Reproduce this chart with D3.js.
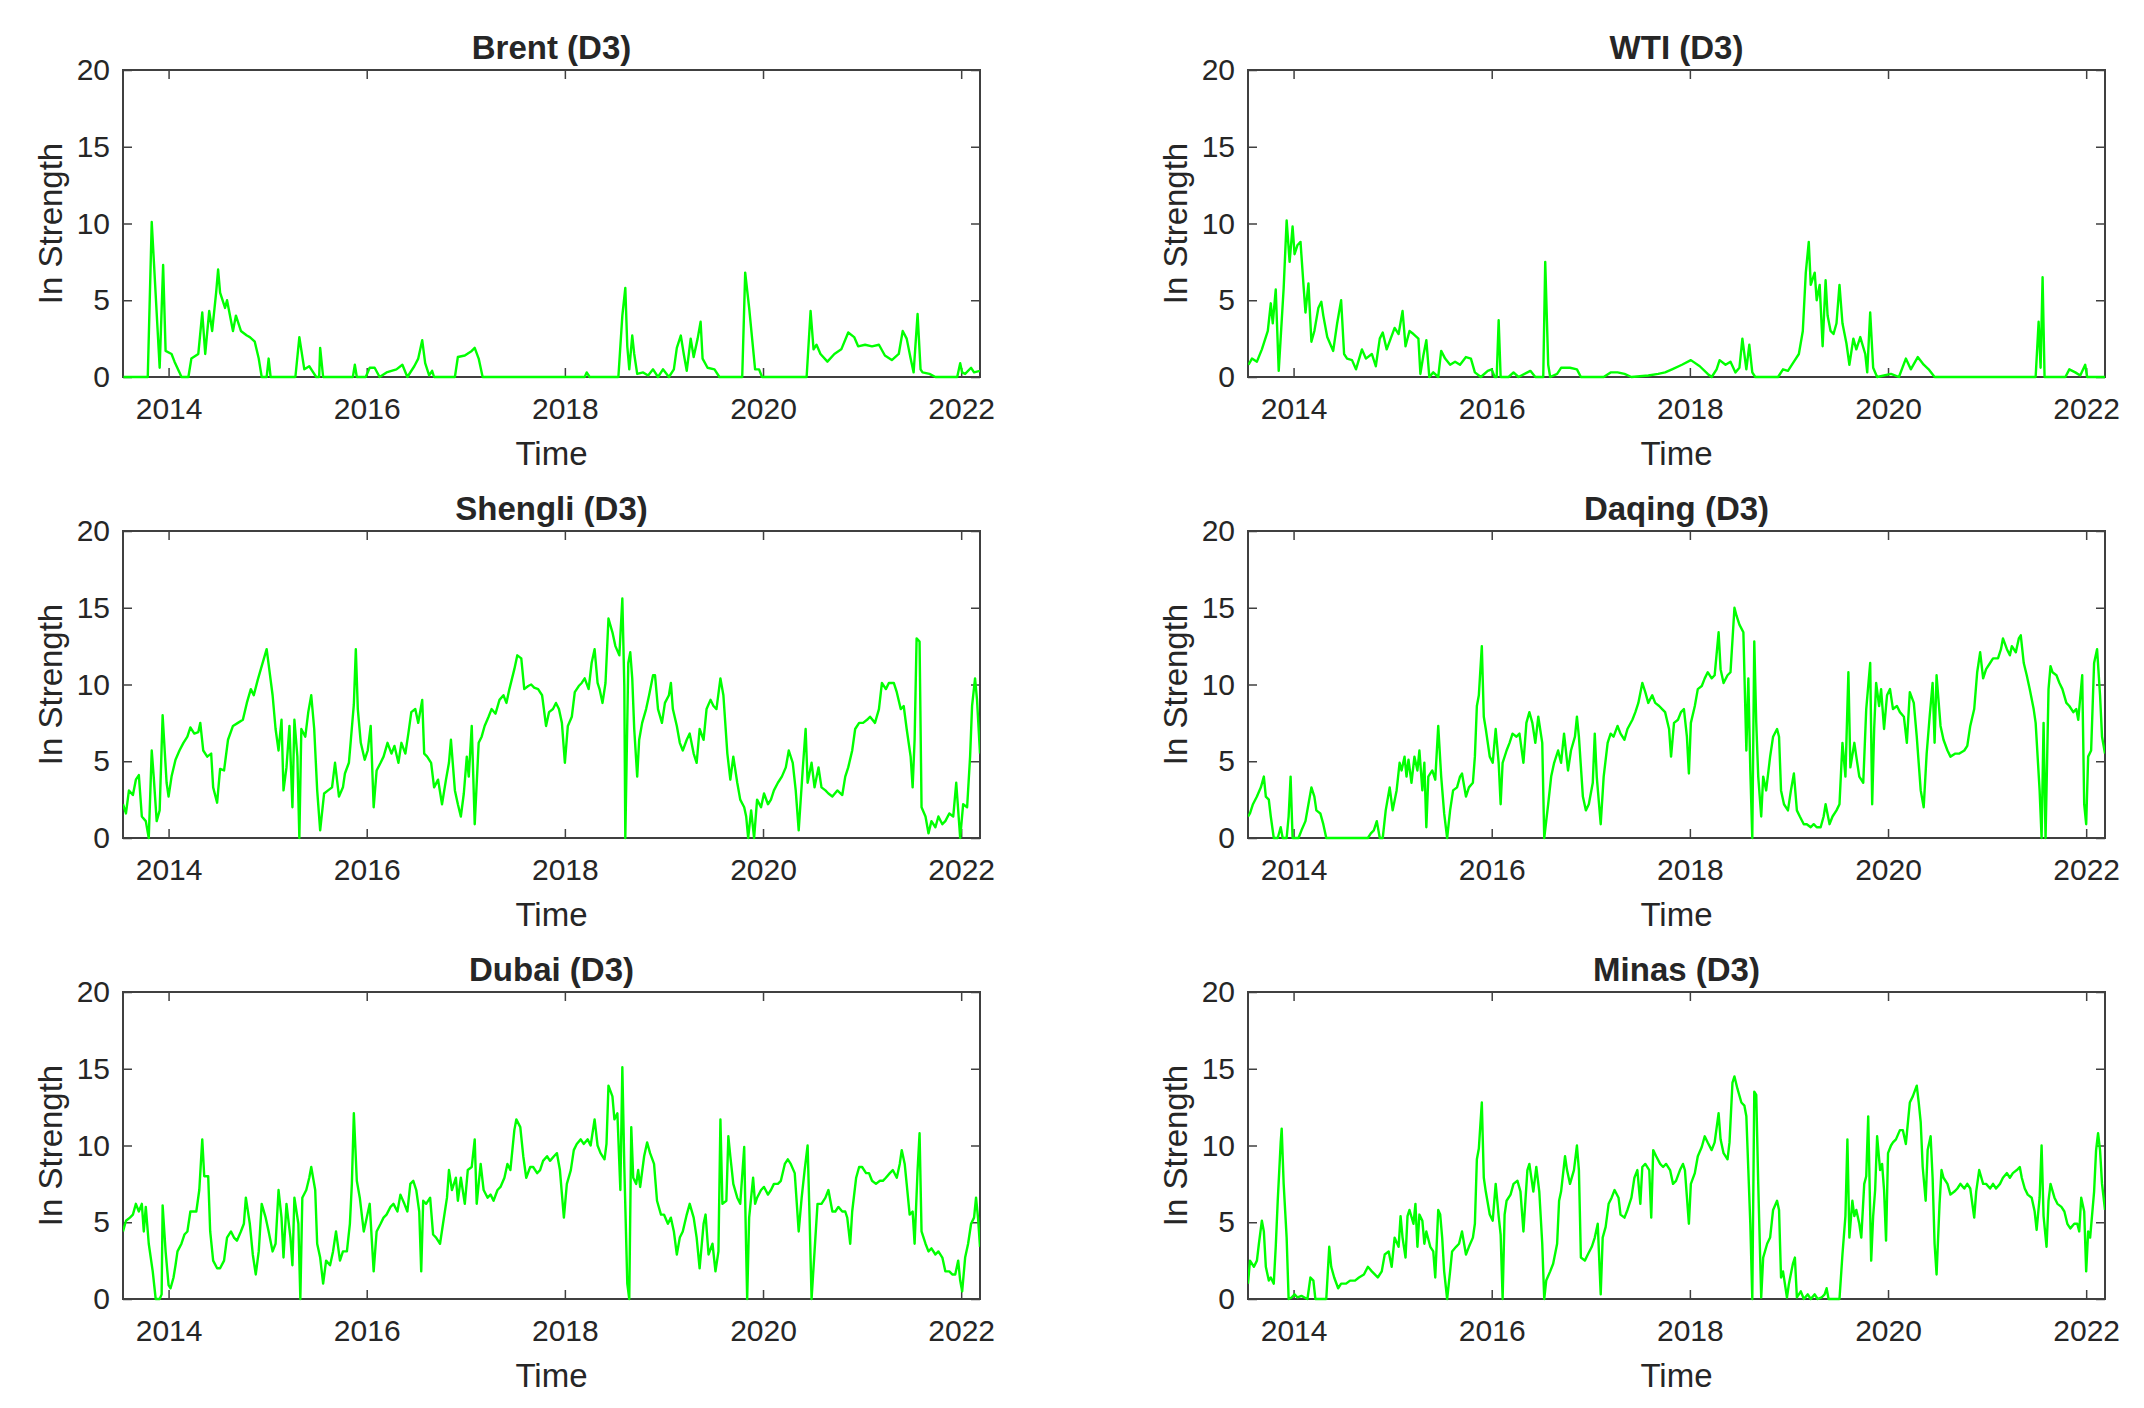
<!DOCTYPE html>
<html lang="en">
<head>
<meta charset="utf-8">
<title>In Strength (D3)</title>
<script src="https://d3js.org/d3.v7.min.js"></script>
<style>
  body { margin: 0; background: #fff; }
  text { font-family: "Liberation Sans", Arial, Helvetica, sans-serif; fill: #262626; }
</style>
</head>
<body>
<svg id="chart" width="2144" height="1408"></svg>
<script>
// axis ticks
const xTicks = [2014, 2016, 2018, 2020, 2022];
const yTicks = [0, 5, 10, 15, 20];
const titles = ["Brent (D3)", "WTI (D3)", "Shengli (D3)", "Daqing (D3)", "Dubai (D3)", "Minas (D3)"];

// [decimal year, in strength]
const brent = [[2013.545,0],[2013.79,0],[2013.83,10.1],[2013.91,0.6],[2013.945,7.3],[2013.97,1.7],[2014.03,1.5],[2014.06,1.0],[2014.11,0.3],[2014.13,0],[2014.20,0],[2014.23,1.2],[2014.30,1.5],[2014.34,4.2],[2014.37,1.5],[2014.41,4.3],[2014.44,3.0],[2014.48,5.5],[2014.50,7.0],[2014.52,5.5],[2014.57,4.5],[2014.59,5.0],[2014.65,3.0],[2014.68,4.0],[2014.73,3.0],[2014.79,2.7],[2014.82,2.6],[2014.87,2.3],[2014.91,1.2],[2014.94,0],[2014.99,0],[2015.01,1.2],[2015.03,0],[2015.28,0],[2015.32,2.6],[2015.37,0.5],[2015.42,0.7],[2015.46,0.3],[2015.49,0],[2015.52,0],[2015.53,1.9],[2015.56,0],[2015.86,0],[2015.88,0.8],[2015.90,0],[2015.99,0],[2016.03,0.6],[2016.08,0.6],[2016.13,0],[2016.20,0.3],[2016.30,0.5],[2016.36,0.8],[2016.41,0],[2016.48,0.7],[2016.52,1.2],[2016.56,2.4],[2016.59,0.9],[2016.63,0.1],[2016.66,0.4],[2016.68,0],[2016.89,0],[2016.92,1.3],[2016.99,1.4],[2017.06,1.7],[2017.09,1.9],[2017.13,1.2],[2017.17,0],[2018.20,0],[2018.22,0.3],[2018.25,0],[2018.54,0],[2018.58,4.0],[2018.61,5.8],[2018.63,2.0],[2018.65,0.5],[2018.68,2.7],[2018.70,1.5],[2018.73,0.2],[2018.79,0.3],[2018.84,0.1],[2018.89,0.5],[2018.94,0],[2018.99,0.5],[2019.05,0],[2019.10,0.5],[2019.13,1.9],[2019.17,2.7],[2019.20,1.5],[2019.23,0.4],[2019.27,2.5],[2019.30,1.3],[2019.34,2.5],[2019.37,3.6],[2019.39,1.2],[2019.44,0.6],[2019.51,0.5],[2019.56,0],[2019.79,0],[2019.82,6.8],[2019.86,4.5],[2019.89,2.5],[2019.92,0.5],[2019.96,0.5],[2019.99,0],[2020.44,0],[2020.48,4.3],[2020.51,1.8],[2020.54,2.1],[2020.58,1.5],[2020.65,1.0],[2020.72,1.5],[2020.79,1.8],[2020.86,2.9],[2020.92,2.6],[2020.96,2.0],[2021.03,2.1],[2021.10,2.0],[2021.17,2.1],[2021.23,1.4],[2021.30,1.1],[2021.37,1.5],[2021.41,3.0],[2021.45,2.5],[2021.49,1.2],[2021.52,0.3],[2021.56,4.1],[2021.59,0.5],[2021.61,0.3],[2021.68,0.2],[2021.74,0],[2021.96,0],[2021.99,0.9],[2022.01,0.3],[2022.04,0.2],[2022.10,0.6],[2022.13,0.3],[2022.19,0.4]];

const wti = [[2013.545,0.8],[2013.58,1.2],[2013.63,1.0],[2013.68,1.8],[2013.74,3.0],[2013.77,4.8],[2013.79,3.5],[2013.82,5.7],[2013.85,0.4],[2013.90,5.8],[2013.93,10.2],[2013.96,7.5],[2013.99,9.8],[2014.01,8.0],[2014.04,8.6],[2014.07,8.8],[2014.10,6.0],[2014.12,4.2],[2014.15,6.1],[2014.18,2.3],[2014.21,3.0],[2014.25,4.5],[2014.28,4.9],[2014.30,4.0],[2014.34,2.6],[2014.40,1.7],[2014.44,3.5],[2014.48,5.0],[2014.51,1.5],[2014.54,1.2],[2014.59,1.1],[2014.63,0.5],[2014.69,1.8],[2014.73,1.2],[2014.79,1.5],[2014.83,0.7],[2014.87,2.5],[2014.90,2.9],[2014.94,1.8],[2014.98,2.5],[2015.02,3.2],[2015.06,2.8],[2015.10,4.3],[2015.13,2.0],[2015.17,3.0],[2015.21,2.8],[2015.26,2.5],[2015.28,0.2],[2015.31,1.4],[2015.34,2.4],[2015.37,0],[2015.41,0.3],[2015.46,0],[2015.49,1.7],[2015.53,1.2],[2015.58,0.8],[2015.63,1.0],[2015.68,0.8],[2015.74,1.3],[2015.79,1.2],[2015.83,0.3],[2015.89,0],[2015.96,0.4],[2016.00,0.5],[2016.03,0],[2016.05,0],[2016.07,3.7],[2016.09,0],[2016.17,0],[2016.22,0.3],[2016.27,0],[2016.39,0.4],[2016.44,0],[2016.52,0],[2016.54,7.5],[2016.57,0.8],[2016.59,0],[2016.66,0.2],[2016.70,0.6],[2016.79,0.6],[2016.86,0.5],[2016.90,0],[2017.13,0],[2017.20,0.3],[2017.27,0.3],[2017.34,0.2],[2017.41,0],[2017.58,0.1],[2017.68,0.2],[2017.75,0.3],[2017.82,0.5],[2017.92,0.8],[2018.01,1.1],[2018.10,0.7],[2018.18,0.2],[2018.22,0],[2018.27,0.5],[2018.30,1.1],[2018.36,0.8],[2018.41,1.0],[2018.46,0.3],[2018.50,0.6],[2018.53,2.5],[2018.57,0.5],[2018.60,2.1],[2018.63,0.3],[2018.66,0],[2018.89,0],[2018.94,0.5],[2018.99,0.4],[2019.05,1.0],[2019.10,1.5],[2019.14,3.0],[2019.17,6.8],[2019.20,8.8],[2019.22,6.0],[2019.26,6.8],[2019.28,5.0],[2019.31,6.0],[2019.34,2.0],[2019.37,6.3],[2019.39,4.0],[2019.42,3.0],[2019.45,2.8],[2019.48,3.5],[2019.51,6.0],[2019.54,3.5],[2019.58,2.2],[2019.61,0.8],[2019.65,2.5],[2019.68,1.8],[2019.72,2.6],[2019.77,1.5],[2019.79,0.3],[2019.82,4.2],[2019.85,0.6],[2019.89,0],[2020.03,0.2],[2020.11,0],[2020.18,1.2],[2020.23,0.5],[2020.30,1.3],[2020.36,0.8],[2020.41,0.5],[2020.47,0],[2021.49,0],[2021.52,3.6],[2021.54,0.6],[2021.56,6.5],[2021.58,0],[2021.79,0],[2021.83,0.5],[2021.89,0.3],[2021.94,0.1],[2021.99,0.8],[2022.01,0],[2022.19,0]];

const shengli = [[2013.54,2.2],[2013.57,1.6],[2013.60,3.1],[2013.64,2.8],[2013.67,3.8],[2013.70,4.1],[2013.73,1.4],[2013.77,1.1],[2013.80,0],[2013.83,5.7],[2013.85,4.0],[2013.88,1.1],[2013.91,1.8],[2013.94,8.0],[2013.98,3.6],[2014.00,2.7],[2014.03,4.0],[2014.07,5.1],[2014.11,5.7],[2014.15,6.2],[2014.19,6.6],[2014.22,7.2],[2014.26,6.8],[2014.30,6.9],[2014.32,7.5],[2014.35,5.7],[2014.39,5.3],[2014.43,5.5],[2014.45,3.3],[2014.49,2.3],[2014.52,4.5],[2014.56,4.4],[2014.60,6.4],[2014.65,7.3],[2014.70,7.5],[2014.75,7.7],[2014.79,8.8],[2014.83,9.7],[2014.86,9.3],[2014.90,10.3],[2014.94,11.2],[2014.99,12.3],[2015.02,10.8],[2015.05,9.3],[2015.08,7.1],[2015.11,5.7],[2015.14,7.7],[2015.16,3.1],[2015.19,4.6],[2015.22,7.3],[2015.25,2.0],[2015.27,7.7],[2015.30,5.3],[2015.32,0],[2015.34,7.1],[2015.38,6.6],[2015.41,8.2],[2015.44,9.3],[2015.47,7.1],[2015.50,3.1],[2015.53,0.5],[2015.57,2.9],[2015.61,3.1],[2015.65,3.3],[2015.68,4.9],[2015.72,2.7],[2015.76,3.3],[2015.78,4.2],[2015.82,4.9],[2015.84,6.4],[2015.87,8.7],[2015.89,12.3],[2015.91,8.4],[2015.94,6.2],[2015.98,5.1],[2016.01,5.7],[2016.04,7.3],[2016.07,2.0],[2016.10,4.4],[2016.14,4.9],[2016.17,5.3],[2016.21,6.2],[2016.25,5.5],[2016.28,6.0],[2016.32,4.9],[2016.35,6.2],[2016.39,5.5],[2016.42,6.8],[2016.45,8.2],[2016.49,8.4],[2016.52,7.5],[2016.56,9.0],[2016.58,5.5],[2016.61,5.3],[2016.65,4.9],[2016.68,3.3],[2016.72,3.8],[2016.76,2.2],[2016.80,3.8],[2016.83,4.9],[2016.85,6.4],[2016.89,3.1],[2016.92,2.2],[2016.95,1.4],[2016.98,2.9],[2017.01,5.3],[2017.03,4.0],[2017.06,7.3],[2017.09,0.9],[2017.13,6.2],[2017.16,6.6],[2017.19,7.3],[2017.23,7.9],[2017.26,8.4],[2017.30,8.1],[2017.34,9.0],[2017.38,9.3],[2017.41,8.8],[2017.44,9.7],[2017.49,11.0],[2017.52,11.9],[2017.56,11.7],[2017.59,9.7],[2017.63,9.9],[2017.66,10.0],[2017.69,9.8],[2017.73,9.7],[2017.77,9.3],[2017.81,7.3],[2017.84,8.2],[2017.88,8.4],[2017.91,8.8],[2017.94,8.4],[2017.97,7.5],[2018.00,4.9],[2018.03,7.3],[2018.07,7.9],[2018.10,9.5],[2018.14,9.9],[2018.17,10.1],[2018.20,10.4],[2018.24,9.7],[2018.27,11.4],[2018.30,12.3],[2018.33,10.1],[2018.35,9.7],[2018.38,8.8],[2018.41,10.1],[2018.44,14.3],[2018.48,13.4],[2018.51,12.5],[2018.55,11.9],[2018.58,15.6],[2018.60,9.9],[2018.61,0],[2018.64,11.4],[2018.66,12.1],[2018.68,10.4],[2018.70,7.1],[2018.73,4.0],[2018.75,6.4],[2018.78,7.5],[2018.82,8.4],[2018.85,9.3],[2018.89,10.6],[2018.91,10.6],[2018.94,8.4],[2018.98,7.5],[2019.01,8.8],[2019.05,9.3],[2019.07,10.1],[2019.09,8.4],[2019.13,7.3],[2019.16,6.2],[2019.19,5.7],[2019.23,6.4],[2019.26,6.8],[2019.30,5.5],[2019.33,4.9],[2019.36,7.1],[2019.40,6.4],[2019.43,8.4],[2019.47,9.0],[2019.50,8.6],[2019.53,8.4],[2019.57,10.4],[2019.60,9.3],[2019.64,5.5],[2019.67,3.8],[2019.70,5.3],[2019.74,3.6],[2019.77,2.5],[2019.81,2.0],[2019.83,1.4],[2019.85,0],[2019.88,1.8],[2019.91,0],[2019.94,2.5],[2019.98,2.0],[2020.01,2.9],[2020.05,2.2],[2020.08,2.5],[2020.11,3.1],[2020.15,3.6],[2020.19,4.0],[2020.23,4.6],[2020.26,5.7],[2020.30,4.9],[2020.33,3.1],[2020.36,0.5],[2020.40,4.4],[2020.43,7.1],[2020.45,3.6],[2020.49,4.9],[2020.52,3.3],[2020.56,4.6],[2020.59,3.3],[2020.63,3.1],[2020.66,2.9],[2020.70,2.7],[2020.75,3.1],[2020.80,2.8],[2020.83,4.0],[2020.86,4.6],[2020.90,5.7],[2020.93,7.1],[2020.97,7.5],[2021.01,7.5],[2021.05,7.7],[2021.08,7.9],[2021.13,7.5],[2021.17,8.4],[2021.20,10.1],[2021.24,9.7],[2021.27,10.1],[2021.32,10.1],[2021.35,9.5],[2021.39,8.4],[2021.42,8.6],[2021.45,7.1],[2021.49,5.3],[2021.51,3.3],[2021.53,6.4],[2021.55,13.0],[2021.58,12.8],[2021.60,2.0],[2021.64,1.4],[2021.67,0.3],[2021.70,1.1],[2021.74,0.7],[2021.77,1.4],[2021.81,0.9],[2021.84,1.1],[2021.88,1.6],[2021.92,1.4],[2021.95,3.6],[2021.99,0],[2022.02,2.2],[2022.06,2.0],[2022.09,5.3],[2022.11,8.6],[2022.14,10.4],[2022.16,9.0],[2022.19,5.5]];

const daqing = [[2013.54,1.4],[2013.56,1.6],[2013.59,2.2],[2013.63,2.7],[2013.67,3.3],[2013.70,4.0],[2013.72,2.7],[2013.75,2.5],[2013.77,1.4],[2013.80,0],[2013.84,0],[2013.87,0.7],[2013.89,0],[2013.93,0],[2013.95,1.4],[2013.97,4.0],[2013.99,0],[2014.05,0],[2014.08,0.5],[2014.12,1.1],[2014.15,2.2],[2014.18,3.3],[2014.21,2.7],[2014.23,1.8],[2014.27,1.6],[2014.30,0.9],[2014.33,0],[2014.75,0],[2014.78,0.3],[2014.81,0.5],[2014.84,1.1],[2014.87,0],[2014.90,0],[2014.93,1.8],[2014.97,3.3],[2015.00,1.8],[2015.04,3.1],[2015.07,4.9],[2015.09,4.4],[2015.12,5.3],[2015.14,4.0],[2015.16,5.1],[2015.19,3.6],[2015.22,5.3],[2015.25,4.4],[2015.27,5.7],[2015.30,3.1],[2015.32,4.9],[2015.34,0.7],[2015.36,4.0],[2015.40,4.4],[2015.43,3.8],[2015.46,7.3],[2015.49,4.0],[2015.52,1.6],[2015.55,0],[2015.58,1.8],[2015.61,3.1],[2015.65,3.3],[2015.68,4.0],[2015.70,4.2],[2015.74,2.7],[2015.77,3.3],[2015.81,3.6],[2015.83,5.3],[2015.85,8.6],[2015.87,9.3],[2015.90,12.5],[2015.92,7.9],[2015.94,7.1],[2015.98,5.3],[2016.01,4.9],[2016.04,7.1],[2016.07,4.9],[2016.09,2.2],[2016.11,4.9],[2016.15,5.7],[2016.18,6.2],[2016.21,6.8],[2016.25,6.6],[2016.28,6.8],[2016.32,4.9],[2016.35,7.5],[2016.38,8.2],[2016.41,7.5],[2016.44,6.2],[2016.47,7.9],[2016.51,6.2],[2016.53,0],[2016.57,2.2],[2016.60,4.0],[2016.63,4.9],[2016.67,5.7],[2016.70,4.9],[2016.73,6.8],[2016.77,4.4],[2016.80,5.7],[2016.84,6.6],[2016.86,7.9],[2016.88,6.6],[2016.92,2.7],[2016.95,1.8],[2016.98,2.2],[2017.02,3.6],[2017.04,6.8],[2017.06,4.0],[2017.10,0.9],[2017.13,4.0],[2017.17,6.2],[2017.20,6.8],[2017.23,6.6],[2017.27,7.3],[2017.30,6.8],[2017.34,6.4],[2017.37,7.1],[2017.42,7.7],[2017.45,8.2],[2017.48,8.8],[2017.52,10.1],[2017.55,9.5],[2017.58,8.8],[2017.62,9.3],[2017.65,8.8],[2017.69,8.6],[2017.72,8.4],[2017.75,8.2],[2017.79,7.1],[2017.81,5.3],[2017.84,7.5],[2017.88,7.7],[2017.91,8.2],[2017.94,8.4],[2017.97,6.6],[2017.99,4.2],[2018.01,7.5],[2018.05,8.6],[2018.08,9.7],[2018.12,9.9],[2018.15,10.4],[2018.18,10.8],[2018.22,10.4],[2018.25,10.6],[2018.29,13.4],[2018.31,11.0],[2018.34,10.1],[2018.38,10.6],[2018.41,10.8],[2018.45,15.0],[2018.47,14.5],[2018.50,13.9],[2018.54,13.4],[2018.57,5.7],[2018.59,10.4],[2018.61,4.4],[2018.63,0],[2018.65,12.8],[2018.67,7.5],[2018.69,4.0],[2018.72,1.4],[2018.74,4.0],[2018.77,3.1],[2018.81,5.3],[2018.84,6.6],[2018.88,7.1],[2018.90,6.6],[2018.92,3.1],[2018.95,2.2],[2018.99,1.8],[2019.02,3.1],[2019.05,4.2],[2019.08,1.8],[2019.11,1.4],[2019.15,0.9],[2019.18,0.9],[2019.22,0.7],[2019.25,0.9],[2019.28,0.7],[2019.32,0.7],[2019.35,1.4],[2019.37,2.2],[2019.41,0.9],[2019.44,1.4],[2019.48,1.8],[2019.51,2.2],[2019.54,6.2],[2019.57,4.0],[2019.60,10.8],[2019.62,4.6],[2019.66,6.2],[2019.68,5.3],[2019.71,4.0],[2019.75,3.6],[2019.78,8.4],[2019.82,11.4],[2019.84,2.2],[2019.86,7.1],[2019.88,10.1],[2019.91,8.6],[2019.93,9.7],[2019.96,7.1],[2019.99,9.3],[2020.02,9.7],[2020.05,8.4],[2020.09,8.6],[2020.12,8.2],[2020.16,7.9],[2020.19,6.2],[2020.22,9.5],[2020.26,8.8],[2020.29,6.6],[2020.33,3.1],[2020.36,2.0],[2020.39,5.5],[2020.42,7.9],[2020.45,10.1],[2020.47,6.2],[2020.49,10.6],[2020.53,7.3],[2020.56,6.4],[2020.60,5.7],[2020.63,5.3],[2020.68,5.5],[2020.72,5.5],[2020.77,5.7],[2020.80,6.0],[2020.83,7.3],[2020.87,8.4],[2020.90,10.8],[2020.93,12.1],[2020.96,10.4],[2020.99,11.0],[2021.03,11.4],[2021.06,11.7],[2021.11,11.7],[2021.14,12.3],[2021.16,13.0],[2021.20,12.3],[2021.23,11.9],[2021.25,12.5],[2021.29,12.1],[2021.32,13.0],[2021.34,13.2],[2021.37,11.4],[2021.40,10.6],[2021.43,9.7],[2021.47,8.4],[2021.49,7.5],[2021.53,3.1],[2021.55,0],[2021.57,7.5],[2021.59,0],[2021.62,9.7],[2021.64,11.2],[2021.66,10.8],[2021.70,10.6],[2021.73,10.1],[2021.76,9.7],[2021.80,8.8],[2021.83,8.6],[2021.87,8.2],[2021.90,8.4],[2021.92,7.7],[2021.96,10.6],[2021.98,2.2],[2022.00,0.9],[2022.02,5.3],[2022.05,5.7],[2022.08,11.4],[2022.11,12.3],[2022.14,9.3],[2022.16,6.6],[2022.19,5.5]];

const dubai = [[2013.54,4.4],[2013.57,5.1],[2013.61,5.3],[2013.64,5.5],[2013.67,6.2],[2013.70,5.7],[2013.73,6.2],[2013.75,4.4],[2013.77,6.0],[2013.80,3.6],[2013.84,1.8],[2013.87,0],[2013.91,0],[2013.93,0.3],[2013.94,6.1],[2013.97,3.1],[2014.00,0.9],[2014.02,0.7],[2014.05,1.4],[2014.07,2.2],[2014.09,3.1],[2014.13,3.6],[2014.16,4.2],[2014.19,4.4],[2014.22,5.7],[2014.25,5.7],[2014.28,5.7],[2014.31,7.1],[2014.34,10.4],[2014.36,8.0],[2014.40,8.0],[2014.42,4.4],[2014.45,2.5],[2014.49,2.0],[2014.52,2.0],[2014.56,2.5],[2014.59,4.0],[2014.63,4.4],[2014.66,4.0],[2014.69,3.8],[2014.73,4.4],[2014.76,4.9],[2014.78,6.6],[2014.82,4.9],[2014.85,2.9],[2014.88,1.6],[2014.91,3.1],[2014.94,6.2],[2014.98,5.3],[2015.01,4.4],[2015.05,3.1],[2015.08,3.6],[2015.11,7.1],[2015.14,5.3],[2015.16,2.7],[2015.19,6.2],[2015.23,4.0],[2015.25,2.2],[2015.27,6.6],[2015.31,4.9],[2015.33,0],[2015.35,6.6],[2015.39,7.1],[2015.42,7.9],[2015.44,8.6],[2015.48,7.1],[2015.50,3.6],[2015.53,2.7],[2015.56,1.0],[2015.59,2.5],[2015.63,2.2],[2015.66,3.1],[2015.69,4.4],[2015.73,2.5],[2015.76,3.1],[2015.80,3.1],[2015.83,4.9],[2015.85,7.5],[2015.87,12.1],[2015.90,7.7],[2015.93,6.6],[2015.97,4.4],[2016.00,5.3],[2016.03,6.2],[2016.07,1.8],[2016.10,4.4],[2016.14,4.9],[2016.17,5.3],[2016.20,5.5],[2016.24,6.0],[2016.27,6.2],[2016.31,5.7],[2016.34,6.8],[2016.38,6.2],[2016.41,5.7],[2016.44,7.5],[2016.47,7.7],[2016.50,7.1],[2016.53,5.7],[2016.55,1.8],[2016.57,6.4],[2016.60,6.2],[2016.64,6.6],[2016.67,4.2],[2016.70,4.0],[2016.74,3.6],[2016.77,4.9],[2016.81,6.6],[2016.83,8.4],[2016.86,7.1],[2016.90,7.9],[2016.92,6.4],[2016.95,7.9],[2016.99,6.2],[2017.02,8.4],[2017.06,8.6],[2017.09,10.4],[2017.11,6.2],[2017.15,8.8],[2017.18,7.1],[2017.22,6.6],[2017.25,6.8],[2017.28,6.4],[2017.32,7.1],[2017.35,7.3],[2017.39,7.9],[2017.42,8.8],[2017.45,8.4],[2017.49,11.0],[2017.51,11.7],[2017.55,11.2],[2017.58,9.3],[2017.61,7.9],[2017.65,8.6],[2017.68,8.6],[2017.72,8.2],[2017.75,8.4],[2017.78,9.0],[2017.82,9.3],[2017.85,9.0],[2017.89,9.3],[2017.92,9.5],[2017.95,8.4],[2017.99,5.3],[2018.02,7.5],[2018.06,8.4],[2018.09,9.7],[2018.12,10.1],[2018.16,10.4],[2018.19,10.1],[2018.23,10.4],[2018.26,10.0],[2018.30,11.7],[2018.33,10.0],[2018.36,9.5],[2018.40,9.1],[2018.42,10.1],[2018.44,13.9],[2018.48,13.2],[2018.50,11.7],[2018.53,12.1],[2018.56,7.1],[2018.58,15.1],[2018.60,8.6],[2018.63,1.0],[2018.65,0],[2018.67,11.2],[2018.69,7.9],[2018.72,7.5],[2018.74,8.4],[2018.76,7.3],[2018.80,9.3],[2018.83,10.2],[2018.86,9.5],[2018.90,8.8],[2018.93,6.4],[2018.97,5.5],[2019.00,5.5],[2019.04,4.9],[2019.07,5.3],[2019.10,4.4],[2019.13,2.9],[2019.16,4.0],[2019.19,4.4],[2019.23,5.5],[2019.26,6.2],[2019.30,5.3],[2019.33,4.0],[2019.36,2.0],[2019.40,4.9],[2019.42,5.5],[2019.45,2.9],[2019.49,3.6],[2019.52,1.8],[2019.55,3.1],[2019.57,11.7],[2019.59,6.2],[2019.63,6.4],[2019.65,10.6],[2019.67,9.3],[2019.70,7.5],[2019.74,6.6],[2019.77,6.2],[2019.81,9.9],[2019.83,3.1],[2019.84,0],[2019.86,5.3],[2019.90,7.9],[2019.92,6.2],[2019.94,6.6],[2019.98,7.1],[2020.01,7.3],[2020.05,6.8],[2020.08,7.1],[2020.11,7.5],[2020.15,7.5],[2020.18,7.7],[2020.22,8.8],[2020.25,9.1],[2020.28,8.8],[2020.32,8.2],[2020.36,4.4],[2020.39,6.6],[2020.42,8.4],[2020.45,10.0],[2020.47,5.3],[2020.49,0],[2020.52,3.1],[2020.55,6.2],[2020.59,6.2],[2020.63,6.6],[2020.66,7.1],[2020.70,5.7],[2020.73,5.7],[2020.76,6.0],[2020.80,5.7],[2020.83,5.7],[2020.85,5.3],[2020.88,3.6],[2020.90,5.7],[2020.94,7.9],[2020.97,8.6],[2021.00,8.6],[2021.04,8.2],[2021.07,8.2],[2021.10,7.7],[2021.14,7.5],[2021.18,7.7],[2021.21,7.7],[2021.24,7.9],[2021.28,8.2],[2021.31,8.4],[2021.35,7.9],[2021.38,8.8],[2021.40,9.7],[2021.43,8.8],[2021.45,7.5],[2021.48,5.5],[2021.51,5.7],[2021.53,3.6],[2021.56,8.4],[2021.58,10.8],[2021.60,4.4],[2021.64,3.6],[2021.67,3.1],[2021.70,3.3],[2021.74,2.9],[2021.77,3.1],[2021.81,2.7],[2021.84,1.8],[2021.88,1.8],[2021.91,1.6],[2021.94,1.6],[2021.97,2.5],[2021.99,1.2],[2022.01,0.5],[2022.04,2.7],[2022.07,3.6],[2022.10,4.9],[2022.13,5.3],[2022.15,6.6],[2022.17,5.3],[2022.19,3.4]];

const minas = [[2013.54,1.0],[2013.56,2.5],[2013.60,2.1],[2013.63,2.5],[2013.65,3.6],[2013.68,5.1],[2013.70,4.4],[2013.72,2.1],[2013.75,1.2],[2013.77,1.4],[2013.80,1.0],[2013.82,3.4],[2013.84,6.4],[2013.87,10.2],[2013.88,11.1],[2013.90,7.5],[2013.93,4.0],[2013.95,0],[2013.98,0.1],[2014.01,0.3],[2014.04,0.1],[2014.08,0.2],[2014.11,0.1],[2014.14,0],[2014.17,1.4],[2014.20,1.2],[2014.22,0],[2014.33,0],[2014.36,3.4],[2014.38,2.1],[2014.41,1.4],[2014.45,0.7],[2014.48,1.0],[2014.53,1.0],[2014.57,1.2],[2014.62,1.2],[2014.66,1.4],[2014.71,1.6],[2014.75,2.1],[2014.79,1.8],[2014.82,1.6],[2014.85,1.4],[2014.89,1.8],[2014.92,2.9],[2014.96,3.1],[2014.99,2.1],[2015.02,4.0],[2015.06,3.4],[2015.08,5.4],[2015.10,4.0],[2015.13,2.7],[2015.15,5.4],[2015.17,5.8],[2015.21,4.9],[2015.23,6.2],[2015.25,3.4],[2015.27,5.5],[2015.30,5.1],[2015.32,3.6],[2015.34,4.4],[2015.38,3.4],[2015.41,3.1],[2015.43,1.4],[2015.46,5.8],[2015.48,5.5],[2015.50,4.0],[2015.52,1.8],[2015.55,0],[2015.58,1.8],[2015.60,3.1],[2015.64,3.4],[2015.67,3.6],[2015.70,4.4],[2015.74,2.9],[2015.77,3.4],[2015.81,4.0],[2015.83,4.9],[2015.85,9.1],[2015.87,9.8],[2015.90,12.8],[2015.92,7.9],[2015.94,7.0],[2015.98,5.5],[2016.01,5.1],[2016.04,7.5],[2016.07,5.4],[2016.09,4.2],[2016.11,0],[2016.13,5.5],[2016.15,6.4],[2016.19,6.8],[2016.22,7.5],[2016.26,7.7],[2016.29,7.0],[2016.32,4.4],[2016.36,8.4],[2016.38,8.8],[2016.42,7.0],[2016.45,8.6],[2016.48,7.0],[2016.51,3.6],[2016.53,0],[2016.55,1.2],[2016.59,1.8],[2016.62,2.3],[2016.66,3.6],[2016.68,6.4],[2016.70,7.0],[2016.74,9.3],[2016.76,8.4],[2016.79,7.5],[2016.83,8.4],[2016.86,10.0],[2016.88,8.4],[2016.90,2.7],[2016.94,2.5],[2016.97,2.9],[2017.01,3.4],[2017.04,4.0],[2017.07,4.9],[2017.10,0.3],[2017.12,4.0],[2017.15,4.7],[2017.18,6.2],[2017.21,6.6],[2017.24,7.1],[2017.28,6.6],[2017.30,5.5],[2017.34,5.3],[2017.37,5.8],[2017.41,6.6],[2017.44,7.9],[2017.47,8.4],[2017.50,6.2],[2017.52,8.6],[2017.55,8.8],[2017.59,8.4],[2017.61,5.3],[2017.63,9.7],[2017.66,9.3],[2017.70,8.8],[2017.73,8.6],[2017.76,8.8],[2017.80,8.4],[2017.83,7.5],[2017.86,7.7],[2017.90,8.4],[2017.93,8.8],[2017.95,8.4],[2017.99,4.9],[2018.01,7.5],[2018.05,8.2],[2018.08,9.3],[2018.12,9.9],[2018.15,10.6],[2018.18,10.2],[2018.22,9.7],[2018.25,10.2],[2018.29,12.1],[2018.31,10.4],[2018.34,9.5],[2018.38,9.1],[2018.40,10.2],[2018.43,14.1],[2018.45,14.5],[2018.48,13.7],[2018.52,12.8],[2018.55,12.6],[2018.57,11.9],[2018.59,8.4],[2018.61,4.9],[2018.63,0],[2018.65,13.5],[2018.67,13.3],[2018.69,7.5],[2018.72,0.1],[2018.74,2.7],[2018.78,3.6],[2018.81,4.0],[2018.84,5.8],[2018.88,6.4],[2018.90,5.8],[2018.92,1.4],[2018.94,1.8],[2018.98,0.1],[2019.00,1.0],[2019.04,2.3],[2019.06,2.7],[2019.08,0.1],[2019.12,0.5],[2019.15,0],[2019.19,0.3],[2019.22,0],[2019.26,0.3],[2019.29,0],[2019.33,0.1],[2019.36,0.3],[2019.38,0.7],[2019.40,0],[2019.51,0],[2019.54,2.9],[2019.57,5.4],[2019.59,10.4],[2019.61,4.0],[2019.64,6.4],[2019.66,5.4],[2019.68,5.8],[2019.71,4.9],[2019.73,4.0],[2019.76,7.5],[2019.78,8.0],[2019.80,11.9],[2019.83,2.5],[2019.85,5.4],[2019.87,7.1],[2019.89,10.6],[2019.92,8.4],[2019.94,8.8],[2019.96,7.1],[2019.98,3.8],[2020.00,9.5],[2020.03,10.0],[2020.05,10.2],[2020.08,10.4],[2020.12,11.0],[2020.15,11.0],[2020.18,10.1],[2020.22,12.8],[2020.25,13.2],[2020.29,13.9],[2020.31,12.8],[2020.33,11.5],[2020.35,8.6],[2020.38,6.4],[2020.40,9.7],[2020.43,10.6],[2020.45,7.9],[2020.47,3.6],[2020.49,1.6],[2020.52,6.2],[2020.54,8.4],[2020.56,7.9],[2020.60,7.5],[2020.63,6.8],[2020.67,7.0],[2020.70,7.2],[2020.73,7.5],[2020.77,7.2],[2020.80,7.5],[2020.83,7.2],[2020.87,5.3],[2020.89,7.0],[2020.92,8.4],[2020.96,7.5],[2020.99,7.5],[2021.03,7.2],[2021.06,7.5],[2021.09,7.2],[2021.13,7.5],[2021.16,7.9],[2021.20,8.2],[2021.23,7.9],[2021.26,8.2],[2021.30,8.4],[2021.33,8.6],[2021.35,7.9],[2021.38,7.2],[2021.41,6.8],[2021.45,6.6],[2021.48,5.7],[2021.50,4.5],[2021.53,6.6],[2021.55,10.0],[2021.57,5.4],[2021.60,3.4],[2021.62,6.4],[2021.64,7.5],[2021.68,6.6],[2021.71,6.2],[2021.75,6.0],[2021.78,5.7],[2021.81,4.9],[2021.84,4.6],[2021.88,4.9],[2021.91,4.9],[2021.93,4.4],[2021.95,6.6],[2021.98,5.7],[2022.00,1.8],[2022.02,4.4],[2022.04,4.0],[2022.08,7.0],[2022.10,9.7],[2022.12,10.8],[2022.14,9.7],[2022.16,7.5],[2022.19,5.8]];

const series = [brent, wti, shengli, daqing, dubai, minas];

// layout
const plotW = 857, plotH = 307;
const lefts = [123, 1248];
const tops = [70, 531, 992];
const tickLen = 9;
const axisColor = "#404040";

const svg = d3.select("#chart");

const x = d3.scaleLinear().domain([2013.54, 2022.19]).range([0, plotW]);
const y = d3.scaleLinear().domain([0, 20]).range([plotH, 0]);

const line = d3.line()
  .x(d => x(d[0]))
  .y(d => y(d[1]));

function styleAxis(g) {
  g.select(".domain").remove();
  g.attr("font-size", 30).attr("font-family", null);
  g.selectAll(".tick line").attr("stroke", axisColor).attr("stroke-width", 1.5);
}

series.forEach(function(data, i) {
  const col = i % 2, row = Math.floor(i / 2);
  const g = svg.append("g")
    .attr("transform", "translate(" + lefts[col] + "," + tops[row] + ")");

  g.append("clipPath").attr("id", "clip" + i)
    .append("rect")
      .attr("x", 0).attr("y", -2)
      .attr("width", plotW).attr("height", plotH + 4);

  // inward ticks on all four sides
  g.append("g")
    .attr("transform", "translate(0," + plotH + ")")
    .call(d3.axisBottom(x).tickValues(xTicks).tickFormat(d3.format("d"))
      .tickSize(-tickLen).tickPadding(21))
    .call(styleAxis);

  g.append("g")
    .call(d3.axisTop(x).tickValues(xTicks).tickFormat("").tickSize(-tickLen))
    .call(styleAxis);

  g.append("g")
    .call(d3.axisLeft(y).tickValues(yTicks).tickSize(-tickLen).tickPadding(13))
    .call(styleAxis);

  g.append("g")
    .attr("transform", "translate(" + plotW + ",0)")
    .call(d3.axisRight(y).tickValues(yTicks).tickFormat("").tickSize(-tickLen))
    .call(styleAxis);

  g.append("rect")
    .attr("width", plotW).attr("height", plotH)
    .attr("fill", "none")
    .attr("stroke", axisColor)
    .attr("stroke-width", 2);

  g.append("path")
    .datum(data)
    .attr("clip-path", "url(#clip" + i + ")")
    .attr("fill", "none")
    .attr("stroke", "#00ff00")
    .attr("stroke-width", 2.4)
    .attr("stroke-linejoin", "round")
    .attr("d", line);

  g.append("text")
    .attr("x", plotW / 2).attr("y", -11)
    .attr("text-anchor", "middle")
    .attr("font-size", 33)
    .attr("font-weight", "bold")
    .text(titles[i]);

  g.append("text")
    .attr("x", plotW / 2).attr("y", plotH + 88)
    .attr("text-anchor", "middle")
    .attr("font-size", 33)
    .text("Time");

  g.append("text")
    .attr("transform", "translate(-61," + plotH / 2 + ") rotate(-90)")
    .attr("text-anchor", "middle")
    .attr("font-size", 33)
    .text("In Strength");
});
</script>
</body>
</html>
